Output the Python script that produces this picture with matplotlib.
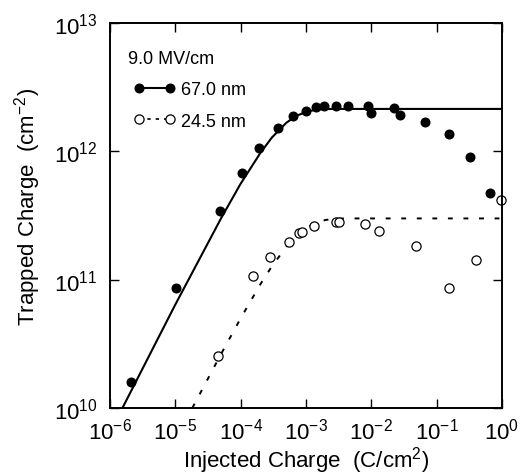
import matplotlib
matplotlib.use("Agg")
import matplotlib.pyplot as plt
from matplotlib.lines import Line2D
from matplotlib.ticker import LogLocator, NullLocator

plt.rcParams['font.family'] = ['Liberation Sans', 'DejaVu Sans']
plt.rcParams['mathtext.fontset'] = 'custom'
plt.rcParams['mathtext.rm'] = 'Liberation Sans'
plt.rcParams['mathtext.it'] = 'Liberation Sans:italic'
plt.rcParams['mathtext.bf'] = 'Liberation Sans:bold'

# ---- data: 67.0 nm (filled circles)
x67 = [2.1e-6, 1.01e-5, 4.8e-5, 1.04e-4, 1.94e-4, 3.7e-4, 6.3e-4, 1.0e-3, 1.42e-3,
       1.89e-3, 2.85e-3, 4.45e-3, 8.9e-3, 9.9e-3, 2.2e-2, 2.72e-2, 6.6e-2, 0.156,
       0.327, 0.662]
y67 = [1.6e10, 8.6e10, 3.43e11, 6.8e11, 1.07e12, 1.52e12, 1.88e12, 2.07e12, 2.2e12,
       2.24e12, 2.27e12, 2.27e12, 2.27e12, 2.0e12, 2.16e12, 1.92e12, 1.69e12, 1.36e12,
       9.1e11, 4.71e11]

# ---- data: 24.5 nm (open circles)
x245 = [4.46e-5, 1.56e-4, 2.81e-4, 5.55e-4, 7.9e-4, 8.6e-4, 1.32e-3, 2.85e-3, 3.24e-3,
        8.0e-3, 1.31e-2, 4.78e-2, 0.155, 0.40, 0.975]
y245 = [2.56e10, 1.07e11, 1.49e11, 1.98e11, 2.31e11, 2.34e11, 2.6e11, 2.83e11, 2.83e11,
        2.7e11, 2.39e11, 1.82e11, 8.6e10, 1.43e11, 4.18e11]

# ---- fitted curves
fit67_x = [1.55e-6, 1e-5, 5e-5, 1e-4, 2e-4, 3e-4, 5e-4, 7e-4, 1e-3, 1.5e-3, 2e-3,
           3e-3, 5e-3, 1e-2, 1e-1, 1.0]
fit67_y = [1.0e10, 6.4e10, 3.0e11, 5.6e11, 9.7e11, 1.28e12, 1.67e12, 1.88e12, 2.03e12,
           2.12e12, 2.135e12, 2.14e12, 2.14e12, 2.14e12, 2.14e12, 2.14e12]
fit245_x = [1.82e-5, 5e-5, 1e-4, 2e-4, 3e-4, 5e-4, 7e-4, 1e-3, 1.5e-3, 2e-3, 3e-3,
            5e-3, 1e-2, 1e-1, 1.0]
fit245_y = [1.0e10, 2.63e10, 5.0e10, 9.2e10, 1.27e11, 1.8e11, 2.17e11, 2.52e11, 2.81e11,
            2.92e11, 2.99e11, 3.0e11, 3.0e11, 3.0e11, 3.0e11]

field_label = "9.0 MV/cm"
labels = ["67.0 nm", "24.5 nm"]

fig = plt.figure(figsize=(5.26, 4.77), dpi=100)
ax = fig.add_axes([110/526, 1-409/477, 392/526, 385/477])

ax.plot(fit67_x, fit67_y, color='k', lw=1.5, solid_capstyle='butt')
ax.plot(fit245_x, fit245_y, color='k', lw=1.4, dashes=(2.5, 5.5))
ax.plot(x67, y67, ls='none', marker='o', ms=6.2, mfc='k', mec='k')
ax.plot(x245, y245, ls='none', marker='o', ms=6.6, mfc='white', mec='k', mew=0.9, clip_on=False)

ax.set_xscale('log')
ax.set_yscale('log')
ax.set_xlim(1e-6, 1)
ax.set_ylim(1e10, 1e13)
ax.xaxis.set_major_locator(LogLocator(base=10, numticks=20))
ax.yaxis.set_major_locator(LogLocator(base=10, numticks=20))
ax.xaxis.set_minor_locator(NullLocator())
ax.yaxis.set_minor_locator(NullLocator())
ax.tick_params(which='major', direction='in', length=6.5, width=1.0,
               top=True, right=True, labelsize=16, pad=7)
ax.tick_params(axis='y', pad=9)
for s in ax.spines.values():
    s.set_linewidth(1.4)

ax.set_xlabel("Injected Charge  (C/cm$^2$)", fontsize=16)
ax.set_ylabel("Trapped Charge  (cm$^{-2}$)", fontsize=16)
ax.xaxis.set_label_coords(0.5, -0.095)
ax.yaxis.set_label_coords(-0.17, 0.525)

ax.text(0.046, 0.93, field_label, transform=ax.transAxes, fontsize=13,
        ha='left', va='top')
h1 = Line2D([], [], color='k', lw=1.5, marker='o', ms=6.2, mfc='k', mec='k')
h2 = Line2D([], [], color='k', lw=1.2, dashes=(2, 3), marker='o', ms=6.6,
            mfc='white', mec='k', mew=0.9)
ax.legend([h1, h2], labels, loc='upper left', bbox_to_anchor=(0.061, 0.849),
          numpoints=2, frameon=False, fontsize=13, borderpad=0, borderaxespad=0,
          handlelength=2.3, handletextpad=0.3, labelspacing=0.8)

fig.savefig("out.png", dpi=100)
